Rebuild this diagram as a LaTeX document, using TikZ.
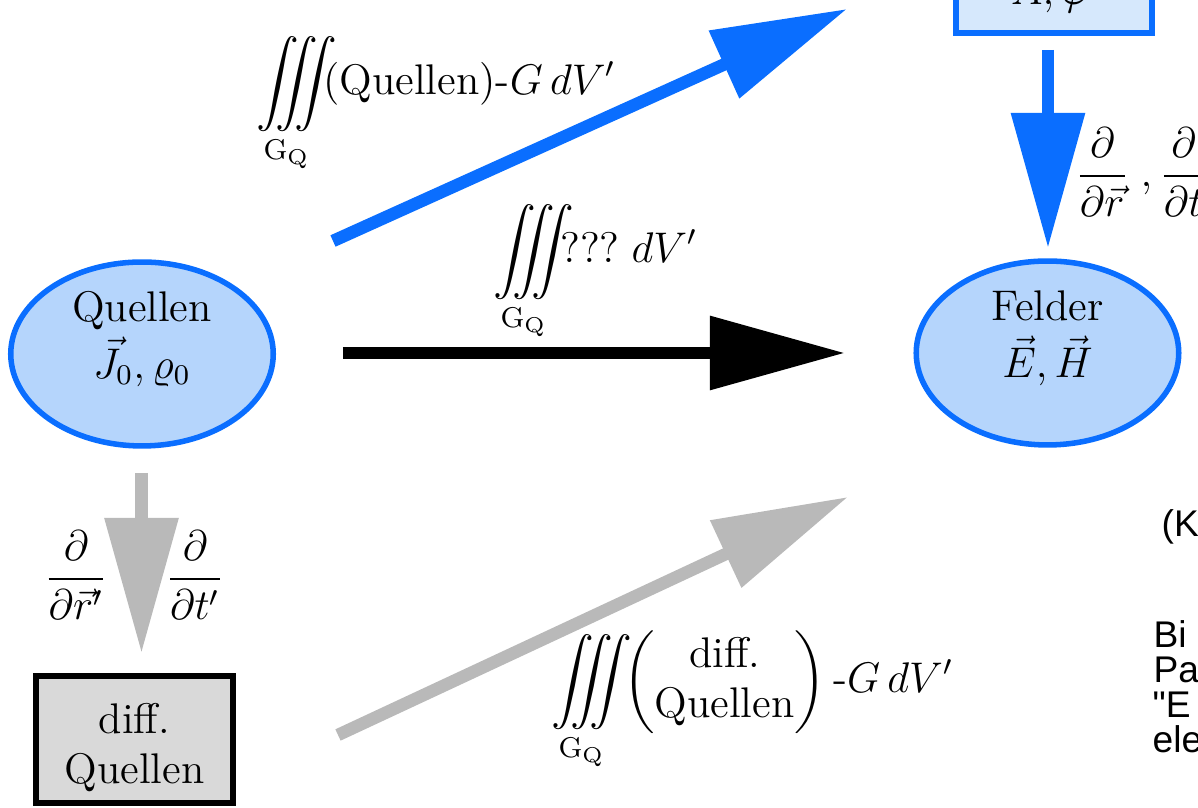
\documentclass[tikz,border=0pt]{standalone}
\usepackage{amsmath}
\usepackage{fontspec}
\newfontfamily\arialfont{Liberation Sans}[Ligatures=TeXOff]
\usetikzlibrary{arrows.meta,shapes.geometric}
\definecolor{mblue}{RGB}{10,110,255}
\definecolor{efill}{RGB}{181,213,252}
\definecolor{bfill}{RGB}{214,232,252}
\definecolor{mgray}{RGB}{185,185,185}
\definecolor{dfill}{RGB}{217,217,217}
\newcommand{\myiiint}{\mathop{\int\mkern-13mu\int\mkern-13mu\int\mkern-9mu}\limits_{\mathrm{G_Q}}}
\begin{document}
\begin{tikzpicture}[x=0.28pt,y=-0.28pt,
  src/.style={ellipse, draw=mblue, fill=efill, line width=1.55pt, minimum width=73.5pt, minimum height=51.5pt, inner sep=0pt},
  intext/.style={align=center, font=\large, inner sep=0pt},
  bigarrow/.style={line width=3.5pt, -{Triangle[length=37.8pt,width=19.9pt]}},
  lbl/.style={inner sep=0pt, font=\large},
  sidetxt/.style={inner sep=0pt, anchor=base west, font=\arialfont\fontsize{10.4}{10}\selectfont},
]
\useasboundingbox (0,0) rectangle (1198,808);
\clip (0,0) rectangle (1198,808);

% nodes
\node[src] (quellen) at (142,354) {};
\node[intext] (quellentext) at (142,339) {Quellen\\[2pt]$\vec J_0,\varrho_0$};
\node[src] (felder) at (1047.5,353) {};
\node[intext] (feldertext) at (1047.5,338) {Felder\\[2pt]$\vec E,\vec H$};
\node[draw=mblue, fill=bfill, line width=1.68pt, minimum width=54.9pt, minimum height=40pt, outer sep=0pt, anchor=south] (potbox) at (1054,33) {};
\node[lbl, anchor=base] (pottext) at (1050,5) {$\vec A,\varphi$};
\node[draw=black, fill=dfill, line width=1.68pt, minimum width=55.2pt, minimum height=35.6pt, outer sep=0pt, inner sep=0pt] (diffq) at (134.5,739.5) {};
\node[intext] (diffqtext) at (134.5,748) {diff.\\ Quellen};

% connector ends
\coordinate (b1s) at (333,241);
\coordinate (b1e) at (847,9);
\coordinate (k1s) at (343,353);
\coordinate (k1e) at (845,353);
\coordinate (g1s) at (338,735);
\coordinate (g1e) at (848,497);
\coordinate (bds) at (1048,50);
\coordinate (bde) at (1048,248);
\coordinate (gds) at (141.5,473);
\coordinate (gde) at (141.5,653);

\draw[bigarrow, mblue] (b1s) -- (b1e);
\draw[bigarrow, black] (k1s) -- (k1e);
\draw[bigarrow, mgray] (g1s) -- (g1e);
\draw[bigarrow, mblue] (bds) -- (bde);
\draw[bigarrow, mgray] (gds) -- (gde);

% labels
\node[lbl, anchor=base west] (l1) at (256,95) {$\displaystyle\myiiint\text{(Quellen)-}G\,dV'$};
\node[lbl, anchor=base west] (l2) at (493,263) {$\displaystyle\myiiint\text{???}\;dV'$};
\node[lbl, anchor=base west] (l3) at (551,693) {$\displaystyle\myiiint\mkern2mu\left(\begin{matrix}\text{diff.}\\\text{Quellen}\end{matrix}\right)\text{-}G\,dV'$};
\node[lbl, anchor=west] (l4) at (1075,172) {$\displaystyle\frac{\partial}{\partial\vec r}\;,\frac{\partial}{\partial t}$};
\node[lbl] (l5) at (76,575) {$\displaystyle\frac{\partial}{\partial\vec r'}$};
\node[lbl] (l6) at (195,575) {$\displaystyle\frac{\partial}{\partial t'}$};

% side text (cut off at right edge)
\node[sidetxt] (s1) at (1161,537) {(K};
\node[sidetxt] (s2) at (1153,648) {Bi};
\node[sidetxt] (s3) at (1153,683) {Pa};
\node[sidetxt] (s4) at (1152,718) {"E};
\node[sidetxt] (s5) at (1152,753) {ele};
\end{tikzpicture}
\end{document}
